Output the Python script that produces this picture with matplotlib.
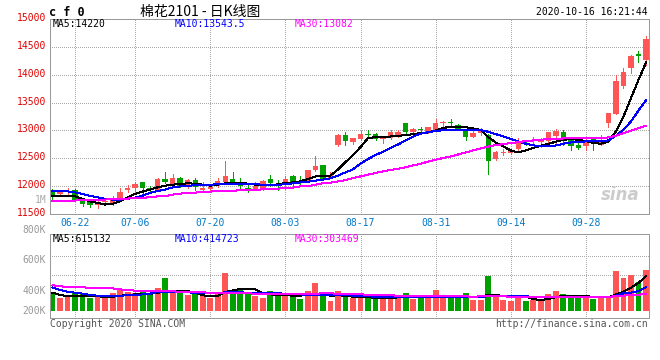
import numpy as np
import matplotlib
matplotlib.use('Agg')
import matplotlib.pyplot as plt
import matplotlib.transforms as mtrans

# the source chart is drawn pixel-sharp, without smoothing
plt.rcParams['lines.antialiased'] = False
plt.rcParams['patch.antialiased'] = False
PX = 0.72  # one pixel at 100 dpi, in points

# trading days shown on the chart (2020)
dates = ['06-17', '06-18', '06-19', '06-22', '06-23', '06-24', '06-29', '06-30',
         '07-01', '07-02', '07-03', '07-06', '07-07', '07-08', '07-09', '07-10',
         '07-13', '07-14', '07-15', '07-16', '07-17', '07-20', '07-21', '07-22',
         '07-23', '07-24', '07-27', '07-28', '07-29', '07-30', '07-31',
         '08-03', '08-04', '08-05', '08-06', '08-07', '08-10', '08-11', '08-12',
         '08-13', '08-14', '08-17', '08-18', '08-19', '08-20', '08-21', '08-24',
         '08-25', '08-26', '08-27', '08-28', '08-31',
         '09-01', '09-02', '09-03', '09-04', '09-07', '09-08', '09-09', '09-10',
         '09-11', '09-14', '09-15', '09-16', '09-17', '09-18', '09-21', '09-22',
         '09-23', '09-24', '09-25', '09-28', '09-29', '09-30',
         '10-09', '10-12', '10-13', '10-14', '10-15', '10-16']

opens = [11907, 11860, 11889, 11925, 11728, 11710, 11669, 11710, 11681, 11758,
         11925, 11961, 12068, 11973, 11925, 12134, 12039, 12152, 11986, 12104,
         11925, 11940, 12009, 12068, 12134, 12068, 11973, 11950, 11950, 12134,
         12045, 12045, 12175, 12098, 12098, 12295, 12385, 12152, 12730, 12922,
         12797, 12850, 12940, 12927, 12845, 12863, 12904, 13131, 12963, 13024,
         12963, 13011, 13131, 13155, 13101, 13011, 12891, 12952, 12922, 12487,
         12600, 12594, 12671, 12802, 12802, 12791, 12802, 12904, 12963, 12820,
         12730, 12712, 12850, 12743, 13142, 13298, 13804, 14116, 14366, 14264]
highs = [11950, 11937, 11961, 11950, 11758, 11758, 11728, 11782, 11830, 11968,
         12027, 12068, 12080, 12009, 12147, 12260, 12224, 12165, 12129, 12146,
         12080, 12027, 12147, 12444, 12247, 12147, 12032, 12080, 12116, 12193,
         12116, 12175, 12206, 12175, 12295, 12546, 12385, 12260, 12940, 12963,
         12868, 12981, 12999, 12952, 12891, 12999, 13011, 13131, 13042, 13070,
         13060, 13203, 13178, 13214, 13119, 13024, 12981, 13042, 12940, 12623,
         12666, 12671, 12863, 12832, 12874, 12863, 12970, 13029, 13011, 12891,
         12832, 12850, 12874, 12922, 13321, 13996, 14127, 14354, 14425, 14694]
lows = [11771, 11860, 11848, 11728, 11651, 11628, 11603, 11687, 11669, 11746,
        11889, 11902, 11878, 11889, 11907, 12057, 12009, 11986, 11968, 11937,
        11907, 11889, 11986, 12045, 12045, 11968, 11889, 11937, 11925, 12009,
        11937, 11950, 12021, 12045, 12080, 12265, 12104, 12140, 12725, 12743,
        12748, 12832, 12881, 12820, 12773, 12845, 12881, 12940, 12940, 12963,
        12952, 12999, 13042, 13083, 12999, 12820, 12881, 12922, 12224, 12474,
        12564, 12576, 12653, 12730, 12755, 12695, 12791, 12755, 12743, 12653,
        12671, 12653, 12653, 12743, 13070, 13298, 13769, 14037, 14234, 14176]
closes = [11848, 11907, 11907, 11746, 11681, 11663, 11699, 11728, 11789, 11902,
          11973, 12045, 11961, 11937, 12134, 12068, 12152, 12009, 12104, 11986,
          11961, 11990, 12098, 12188, 12068, 12009, 11937, 11996, 12086, 12057,
          11996, 12134, 12045, 12057, 12295, 12367, 12129, 12200, 12922, 12802,
          12868, 12940, 12916, 12845, 12863, 12963, 12963, 12963, 13024, 12999,
          13053, 13142, 13155, 13131, 13024, 12881, 12952, 12999, 12444, 12605,
          12618, 12653, 12802, 12784, 12832, 12845, 12963, 12981, 12832, 12712,
          12684, 12832, 12773, 12832, 13321, 13888, 14055, 14341, 14341, 14640]

ma5 = [11830, 11830, 11830, 11817, 11771, 11728, 11699, 11669, 11681, 11728,
       11800, 11860, 11902, 11937, 11979, 12009, 12027, 12039, 12050, 12045,
       12027, 12009, 12027, 12050, 12057, 12057, 12045, 12027, 12021, 12021,
       12032, 12057, 12068, 12086, 12129, 12175, 12188, 12190, 12300, 12430,
       12560, 12700, 12863, 12881, 12881, 12891, 12904, 12916, 12934, 12952,
       12963, 12999, 13042, 13070, 13070, 13060, 13035, 13011, 12881, 12784,
       12712, 12641, 12605, 12641, 12689, 12725, 12761, 12797, 12832, 12845,
       12832, 12809, 12773, 12761, 12802, 12981, 13249, 13579, 13906, 14220]
ma10 = [11907, 11907, 11907, 11889, 11860, 11825, 11800, 11771, 11758, 11758,
        11771, 11794, 11830, 11878, 11914, 11937, 11979, 11996, 12009, 12014,
        12021, 12027, 12032, 12039, 12039, 12039, 12039, 12032, 12027, 12027,
        12027, 12032, 12050, 12068, 12080, 12098, 12116, 12140, 12190, 12247,
        12301, 12403, 12487, 12558, 12618, 12684, 12748, 12820, 12891, 12940,
        12970, 12988, 13006, 13011, 13011, 13011, 13011, 13006, 12976, 12934,
        12891, 12845, 12802, 12761, 12730, 12725, 12725, 12730, 12761, 12784,
        12797, 12802, 12802, 12809, 12820, 12904, 13011, 13160, 13357, 13543]
ma30 = [11728, 11730, 11735, 11742, 11750, 11755, 11758, 11760, 11762, 11765,
        11776, 11789, 11789, 11803, 11817, 11817, 11848, 11866, 11875, 11884,
        11896, 11902, 11914, 11919, 11919, 11925, 11925, 11928, 11946, 11950,
        11955, 11968, 11973, 11996, 12000, 12027, 12054, 12063, 12086, 12107,
        12147, 12175, 12206, 12236, 12265, 12290, 12313, 12337, 12372, 12403,
        12439, 12474, 12505, 12533, 12569, 12605, 12641, 12677, 12712, 12737,
        12755, 12773, 12791, 12809, 12820, 12832, 12845, 12850, 12856, 12863,
        12863, 12868, 12868, 12868, 12874, 12904, 12952, 12993, 13042, 13082]

# volume in thousands of lots
volumes = [299, 234, 269, 329, 311, 234, 264, 264, 317, 370,
           340, 322, 340, 293, 410, 586, 340, 340, 282, 299,
           282, 234, 299, 674, 370, 387, 311, 269, 234, 357,
           311, 299, 252, 211, 357, 498, 299, 176, 357, 252,
           234, 299, 269, 234, 252, 299, 269, 317, 211, 234,
           223, 370, 223, 252, 282, 317, 194, 194, 616, 269,
           194, 176, 269, 176, 194, 211, 299, 352, 299, 282,
           223, 252, 211, 234, 269, 710, 586, 634, 516, 722]
vol_ma5 = [323, 282, 264, 264, 264, 264, 258, 252, 252, 270,
           282, 293, 299, 305, 317, 358, 358, 358, 352, 323,
           276, 264, 270, 334, 364, 387, 387, 381, 317, 293,
           282, 282, 270, 270, 293, 299, 293, 270, 276, 270,
           252, 246, 240, 235, 223, 229, 240, 240, 240, 240,
           240, 240, 240, 240, 246, 252, 240, 252, 282, 276,
           270, 264, 270, 258, 211, 194, 211, 246, 264, 270,
           270, 264, 246, 240, 240, 293, 340, 411, 493, 615]
vol_ma10 = [416, 370, 340, 323, 305, 282, 270, 264, 264, 270,
            276, 282, 293, 305, 334, 340, 328, 328, 328, 323,
            323, 317, 317, 328, 328, 328, 323, 323, 317, 311,
            311, 305, 299, 293, 282, 282, 282, 282, 282, 282,
            270, 264, 258, 252, 252, 250, 248, 250, 252, 250,
            252, 255, 252, 250, 252, 250, 252, 252, 258, 270,
            270, 264, 264, 258, 252, 240, 240, 246, 252, 252,
            252, 252, 246, 240, 246, 270, 311, 323, 352, 415]
vol_ma30 = [452, 440, 416, 416, 416, 411, 399, 399, 399, 381,
            370, 358, 358, 358, 358, 352, 346, 340, 334, 328,
            328, 323, 323, 317, 317, 311, 311, 305, 305, 299,
            299, 293, 293, 293, 299, 305, 311, 311, 305, 299,
            299, 293, 287, 282, 276, 276, 270, 270, 270, 270,
            270, 270, 264, 264, 264, 258, 252, 258, 264, 264,
            258, 252, 252, 252, 252, 252, 252, 252, 252, 252,
            252, 252, 252, 252, 252, 258, 270, 282, 287, 303]

price_ticks = [11500, 12000, 12500, 13000, 13500, 14000, 14500, 15000]
tick_dates = ['06-22', '07-06', '07-20', '08-03', '08-17', '08-31', '09-14', '09-28']
vol_tick_labels = ['800K', '600K', '400K', '200K']

title = '棉花2101 - 日K线图'
symbol = 'c f 0'
timestamp = '2020-10-16 16:21:44'
ma_price_text = ['MA5:14220', 'MA10:13543.5', 'MA30:13082']
ma_vol_text = ['MA5:615132', 'MA10:414723', 'MA30:303469']

UP = '#ff5555'
DOWN = '#00a000'
MA_COLORS = ['#000000', '#0000ff', '#ff00ff']
GRID = '#aaaaaa'
MONO = 'DejaVu Sans Mono'
W, H = 660, 360


def px_rect(left, top, right, bottom):
    return [left / W, 1 - bottom / H, (right - left) / W, (bottom - top) / H]


def style_axes(ax, ticks_x):
    for s in ax.spines.values():
        s.set_color('#999999')
        s.set_linewidth(PX)
    ax.set_xticks(ticks_x)
    ax.tick_params(length=0)
    ax.grid(True, color=GRID, linestyle=(0, (1, 2)), linewidth=PX)
    ax.set_axisbelow(True)


fig = plt.figure(figsize=(6.6, 3.6), dpi=100)
fig.patch.set_facecolor('white')

x = np.arange(len(closes))
o = np.array(opens, float)
c = np.array(closes, float)
colors = [UP if cc >= oo else DOWN for oo, cc in zip(o, c)]
tick_pos = [dates.index(d) for d in tick_dates]
xlim = (-0.33, len(x) - 0.6)

# price panel
ax = fig.add_axes(px_rect(50, 19, 649, 214))
style_axes(ax, tick_pos)
ax.vlines(x, lows, highs, colors=colors, linewidth=PX)
ax.bar(x, np.maximum(np.abs(c - o), 14), bottom=np.minimum(o, c), width=0.72,
       color=colors, linewidth=0)
for vals, col in zip([ma5, ma10, ma30], MA_COLORS):
    ax.plot(x, vals, color=col, linewidth=PX)
ax.set_xlim(*xlim)
ax.set_ylim(price_ticks[0], price_ticks[-1])
ax.set_yticks(price_ticks)
ax.set_yticklabels([str(t) for t in price_ticks], color='#e00000',
                   fontsize=7, family=MONO)
ax.set_xticklabels(tick_dates, color='#0078c8', fontsize=7, family=MONO)
ax.tick_params(axis='y', pad=3)
ax.tick_params(axis='x', pad=3)
shift = mtrans.ScaledTranslation(0, 2 / 100, fig.dpi_scale_trans)
for lab in ax.get_yticklabels():
    lab.set_transform(lab.get_transform() + shift)

for txt, col, xs in zip(ma_price_text, MA_COLORS, [53, 175, 295]):
    ax.text((xs - 50) / 599, 1 - 5 / 195, txt, transform=ax.transAxes,
            color=col, fontsize=7, family=MONO, va='center', ha='left')
ax.text(0.985, 0.05, 'sina', transform=ax.transAxes, color='#cccccc',
        fontsize=12, fontweight='bold', style='italic', ha='right', va='bottom')

# volume panel
axv = fig.add_axes(px_rect(50, 234.3, 649, 318.3))
style_axes(axv, tick_pos)
axv.bar(x, np.array(volumes) * 1000, width=0.78, color=colors, linewidth=0)
for vals, col in zip([vol_ma5, vol_ma10, vol_ma30], MA_COLORS):
    axv.plot(x, np.array(vals) * 1000, color=col, linewidth=PX)
axv.set_xlim(*xlim)
axv.set_ylim(-128e3, 1350e3)
axv.set_yticks([634e3, 973e3])
axv.set_yticklabels([])
axv.set_xticklabels([])
for txt, col, xs in zip(ma_vol_text, MA_COLORS, [53, 175, 295]):
    axv.text((xs - 50) / 599, 1 - 4.4 / 84, txt, transform=axv.transAxes,
             color=col, fontsize=7, family=MONO, va='center', ha='left')

for lab, ypx in zip(vol_tick_labels, [230, 260, 290.7, 311]):
    fig.text(46 / W, 1 - ypx / H, lab, color='#999999', fontsize=7,
             family=MONO, ha='right', va='center')
fig.text(47 / W, 1 - 200 / H, '1M', color='#aaaaaa', fontsize=7,
         family=MONO, ha='right', va='center')

# header and footer
fig.text(49 / W, 1 - 12 / H, symbol, fontsize=8.5, fontweight='bold',
         family=MONO, ha='left', va='center')
fig.text(200 / W, 1 - 12 / H, title, fontsize=10, ha='center', va='center',
         family=['Noto Sans CJK SC', 'DejaVu Sans'])
fig.text(648 / W, 1 - 12 / H, timestamp, fontsize=7, family=MONO,
         ha='right', va='center')
fig.text(50 / W, 1 - 324 / H, 'Copyright 2020 SINA.COM', color='#555555',
         fontsize=7, family=MONO, ha='left', va='center')
fig.text(648 / W, 1 - 324 / H, 'http://finance.sina.com.cn', color='#555555',
         fontsize=7, family=MONO, ha='right', va='center')

fig.savefig('out.png', dpi=100)
